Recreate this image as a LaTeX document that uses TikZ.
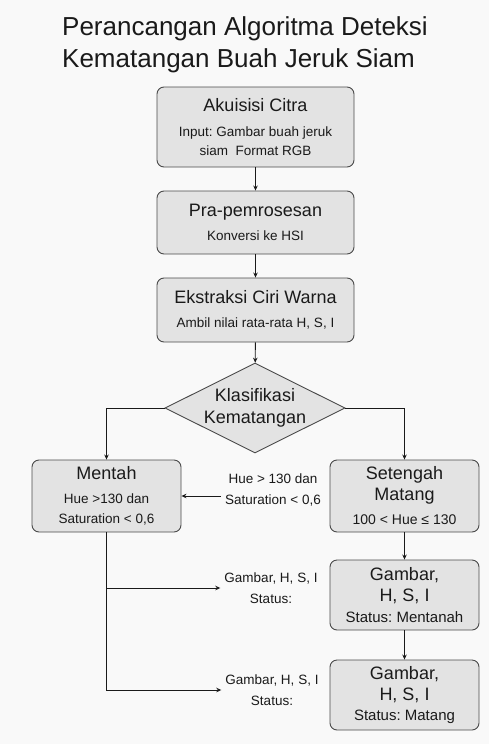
\documentclass[tikz,border=0pt]{standalone}
\usepackage{fontspec}
\setmainfont{Liberation Sans}
\usetikzlibrary{shapes.geometric,arrows.meta}
\definecolor{boxfill}{HTML}{E3E3E3}
\definecolor{boxline}{HTML}{4A4A4A}
\definecolor{ink}{HTML}{1A1A1A}
\definecolor{bg}{HTML}{F9F9F9}
\newcommand{\bt}[1]{{\fontsize{18}{19}\selectfont #1}}
\frenchspacing
\begin{document}
\begin{tikzpicture}[x=1pt,y=-1pt,
  box/.style={draw=boxline, fill=boxfill, rounded corners=7pt, line width=0.9pt,
    align=center, inner sep=0pt, text=ink, font=\fontsize{13.5}{19}\selectfont},
  dia/.style={diamond, aspect=2, draw=boxline, fill=boxfill, line width=0.9pt,
    align=center, inner sep=0pt, text=ink, minimum width=180pt, minimum height=90pt,
    font=\fontsize{18}{22}\selectfont},
  arr/.style={draw=ink, line width=0.9pt, -{Stealth[length=5pt,width=4.5pt]}},
  lbl/.style={align=center, text=ink, inner sep=4pt, font=\fontsize{13.5}{21}\selectfont},
  ttl/.style={anchor=base west, inner sep=0pt, text=ink, font=\fontsize{26}{30}\selectfont}]
\fill[bg] (0,0) rectangle (489,744);
\useasboundingbox (0,0) rectangle (489,744);

\node[ttl] (t1) at (62,35) {Perancangan Algoritma Deteksi};
\node[ttl] (t2) at (62,67) {Kematangan Buah Jeruk Siam};

\node[box, minimum width=197pt, minimum height=80pt] (b1) at (255.5,127)
  {\bt{Akuisisi Citra}\\[6pt]Input: Gambar buah jeruk\\siam\ \ Format RGB};
\node[box, minimum width=197pt, minimum height=63pt] (b2) at (255.5,222.5)
  {\bt{Pra-pemrosesan}\\[5pt]Konversi ke HSI};
\node[box, minimum width=197pt, minimum height=64pt] (b3) at (255.5,310)
  {\bt{Ekstraksi Ciri Warna}\\[5pt]Ambil nilai rata-rata H, S, I};
\node[dia] (kl) at (255,408) {Klasifikasi\\Kematangan};

\node[box, minimum width=149pt, minimum height=72pt] (mentah) at (106.5,496)
  {\bt{Mentah}\\[5pt]Hue >130 dan\\[1pt]Saturation < 0,6};
\node[box, minimum width=149pt, minimum height=72pt, font=\fontsize{14}{19}\selectfont] (setengah) at (404.5,496)
  {\bt{Setengah}\\[2pt]\bt{Matang}\\[5pt]100 < Hue ≤ 130};
\node[box, minimum width=149pt, minimum height=70pt, font=\fontsize{15}{19}\selectfont] (g1) at (404.5,595)
  {\bt{Gambar,}\\[2pt]\bt{H, S, I}\\[2pt]Status: Mentanah};
\node[box, minimum width=149pt, minimum height=70pt, font=\fontsize{15}{19}\selectfont] (g2) at (404.5,695)
  {\bt{Gambar,}\\[2pt]\bt{H, S, I}\\[1pt]Status: Matang};

\node[lbl] (l1) at (273,490) {Hue > 130 dan\\Saturation < 0,6};
\node[lbl] (l2) at (271,588) {Gambar, H, S, I\\Status:};
\node[lbl] (l3) at (272,690) {Gambar, H, S, I\\Status:};

\draw[arr] (b1) -- (b2);
\draw[arr] (b2) -- (b3);
\draw[arr] (b3) -- (kl);
\draw[arr] (kl.west) -| (mentah.north);
\draw[arr] (kl.east) -| (setengah.north);
\draw[arr] (l1.west |- mentah.east) -- (mentah.east);
\draw[arr] (setengah) -- (g1);
\draw[arr] (g1) -- (g2);
\draw[arr] (mentah.south) |- (l3.west);
\draw[arr] (mentah.south |- l2.west) -- (l2.west);
\end{tikzpicture}
\end{document}
